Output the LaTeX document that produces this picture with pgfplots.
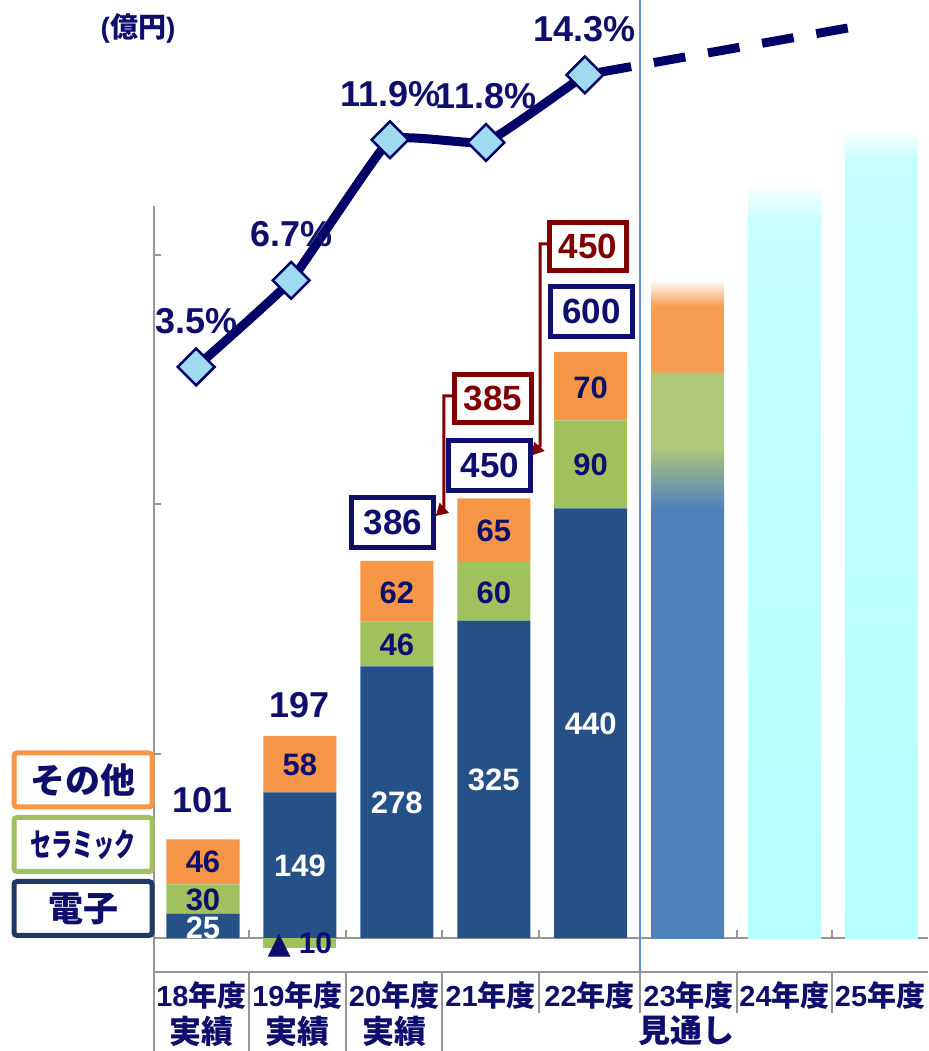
\documentclass[border=0pt]{standalone}
\usepackage{pgfplots}
\pgfplotsset{compat=1.18}
\usepackage{pgfplotstable}
\usepackage{fontspec}
\setmainfont{Liberation Sans}
\newfontfamily\cjk{Noto Sans CJK JP}
\newfontfamily\sym{DejaVu Sans}
\usetikzlibrary{arrows.meta}

\definecolor{navy}{RGB}{14,14,108}
\definecolor{lineblue}{RGB}{0,0,102}
\definecolor{barblue}{RGB}{38,80,136}
\definecolor{barorange}{RGB}{247,150,70}
\definecolor{bargreen}{RGB}{160,194,94}
\definecolor{darkred}{RGB}{128,0,0}
\definecolor{mk}{RGB}{160,218,240}
\definecolor{legblue}{RGB}{31,56,100}
\definecolor{axgray}{RGB}{150,150,150}
\definecolor{sepblue}{RGB}{95,145,210}
\definecolor{cyanA}{RGB}{182,255,255}
\definecolor{cyanB}{RGB}{200,255,255}
\definecolor{blueF}{RGB}{79,129,189}
\definecolor{greenF}{RGB}{174,200,122}
\definecolor{orangeF}{RGB}{247,157,82}

\pgfdeclareverticalshading{shA}{100bp}{color(0bp)=(blueF); color(25bp)=(blueF); color(57.6bp)=(blueF); color(62.3bp)=(greenF); color(67.7bp)=(greenF); color(68.2bp)=(orangeF); color(73bp)=(orangeF); color(75bp)=(white); color(100bp)=(white)}
\pgfdeclareverticalshading{shB}{100bp}{color(0bp)=(cyanA); color(25bp)=(cyanA); color(72.5bp)=(cyanB); color(75bp)=(white); color(100bp)=(white)}
\pgfdeclareverticalshading{shC}{100bp}{color(0bp)=(cyanA); color(25bp)=(cyanA); color(73.2bp)=(cyanB); color(75bp)=(white); color(100bp)=(white)}

\newcommand{\fIn}{\fontsize{31}{33}\selectfont\bfseries}
\newcommand{\fBig}{\fontsize{36}{38}\selectfont\bfseries}
\newcommand{\fBox}{\fontsize{35}{37}\selectfont\bfseries}

% stacked bars (billion yen)
\pgfplotstableread{
x elec cer oth
0 25 30 46
1 149 0 58
2 278 46 62
3 325 60 65
4 440 90 70
}\bars
% labels inside bars
\pgfplotstableread{
x y lab
0 10 25
1 74 149
2 138 278
3 161.5 325
4 219 440
}\whitelabs
\pgfplotstableread{
x y lab
0 39 30
0 78 46
1 177 58
2 300 46
2 353 62
3 353 60
3 417 65
4 484 90
4 563 70
}\navylabs
\pgfplotstableread{
x y lab
0 141 101
1 238 197
}\totlabs
\pgfplotstableread{
x y lab
1.96 425 386
2.96 484 450
4.01 641 600
}\navybox
\pgfplotstableread{
x y lab
2.99 552 385
3.97 708.5 450
}\redbox
% operating margin (%)
\pgfplotstableread{
x p lab
-0.07 3.5 3.5
0.91 6.7 6.7
1.93 11.9 11.9
2.92 11.8 11.8
3.94 14.3 14.3
}\margin

\pgfplotsset{base/.style={scale only axis, width=774pt, height=975pt,
  at={(154pt,76pt)}, anchor=south west, xmin=-0.5055, xmax=7.48,
  hide axis, clip=false}}

\begin{document}
\begin{tikzpicture}[x=1pt,y=1pt]
\useasboundingbox (0,0) rectangle (928,1051);

% axis furniture
\draw[axgray, line width=1.5pt] (154,845) -- (154,0);
\foreach \yy in {796,547,297} \draw[axgray, line width=1.5pt] (154,\yy) -- (161,\yy);
\draw[axgray, line width=1.5pt] (154,113) -- (928,113);
\foreach \xx in {249,346,442,539,737,832} \draw[axgray, line width=1.5pt] (\xx,113) -- (\xx,121);
\draw[axgray, line width=1.5pt] (154,79) -- (928,79);
\foreach \xx in {249,346,442} \draw[axgray, line width=1.5pt] (\xx,79) -- (\xx,0);
\foreach \xx in {539,640,737,832} \draw[axgray, line width=1.5pt] (\xx,79) -- (\xx,38);
\draw[sepblue, line width=1.8pt] (640,1051) -- (640,79);

% stacked bars
\begin{axis}[base, ymin=-37.88, ymax=960.4, ybar stacked, bar width=73pt]
\addplot[fill=barblue, draw=none] table[x=x, y=elec] \bars;
\addplot[fill=bargreen, draw=none] table[x=x, y=cer] \bars;
\addplot[fill=barorange, draw=none] table[x=x, y=oth] \bars;
\end{axis}

% other bars and labels
\begin{axis}[base, ymin=-37.88, ymax=960.4]
\addplot[ybar, bar width=73pt, bar shift=0pt, fill=bargreen, draw=none] coordinates {(1,-10)};
\addplot[ybar, bar width=73pt, bar shift=0pt, draw=none, shade, shading=shA] coordinates {(5,673.7)};
\addplot[ybar, bar width=73pt, bar shift=0pt, draw=none, shade, shading=shB] coordinates {(6,773)};
\addplot[ybar, bar width=73pt, bar shift=0pt, draw=none, shade, shading=shC] coordinates {(7,827)};

\addplot[only marks, mark=*, mark size=0pt, mark options={draw=none, fill=none},
  nodes near coords, point meta=explicit symbolic,
  every node near coord/.append style={anchor=center, font=\fIn, text=white}]
  table[x=x, y=y, meta=lab] \whitelabs;
\addplot[only marks, mark=*, mark size=0pt, mark options={draw=none, fill=none},
  nodes near coords, point meta=explicit symbolic,
  every node near coord/.append style={anchor=center, font=\fIn, text=navy}]
  table[x=x, y=y, meta=lab] \navylabs;
\addplot[only marks, mark=*, mark size=0pt, mark options={draw=none, fill=none},
  nodes near coords, point meta=explicit symbolic,
  every node near coord/.append style={anchor=center, font=\fBig, text=navy}]
  table[x=x, y=y, meta=lab] \totlabs;
\addplot[only marks, mark=*, mark size=0pt, mark options={draw=none, fill=none},
  nodes near coords={{\sym ▲}\hspace{8pt}\pgfplotspointmeta}, point meta=explicit symbolic,
  every node near coord/.append style={anchor=center, font=\fontsize{30}{32}\selectfont\bfseries, text=navy}]
  coordinates {(1,-7) [10]};
\addplot[only marks, mark=*, mark size=0pt, mark options={draw=none, fill=none},
  nodes near coords, point meta=explicit symbolic,
  every node near coord/.append style={anchor=center, font=\fBox, text=navy,
    draw=navy, line width=5pt, fill=white, minimum width=82pt, minimum height=50pt, inner sep=0pt}]
  table[x=x, y=y, meta=lab] \navybox;
\addplot[only marks, mark=*, mark size=0pt, mark options={draw=none, fill=none},
  nodes near coords, point meta=explicit symbolic,
  every node near coord/.append style={anchor=center, font=\fBox, text=darkred,
    draw=darkred, line width=5pt, fill=white, minimum width=77pt, minimum height=48pt, inner sep=0pt}]
  table[x=x, y=y, meta=lab] \redbox;

\draw[darkred, line width=3pt, -{Triangle[length=12pt,width=13pt]}]
  (axis cs:2.597,555) -- (axis cs:2.486,555) -- (axis cs:2.486,440) -- (axis cs:2.40,432);
\draw[darkred, line width=3pt, -{Triangle[length=12pt,width=13pt]}]
  (axis cs:3.57,710.6) -- (axis cs:3.477,710.6) -- (axis cs:3.477,504) -- (axis cs:3.39,494);
\end{axis}

% margin line
\begin{axis}[base, ymin=-18.99, ymax=17.07]
\addplot[lineblue, line width=9pt, dash pattern=on 32pt off 23pt, dash phase=40pt]
  coordinates {(3.94,14.3) (6.71,16.07)};
\addplot[lineblue, line width=9pt, smooth, tension=0.18,
  mark=square*, mark size=13pt,
  mark options={rotate=45, solid, fill=mk, draw=lineblue, line width=2.5pt},
  nodes near coords={\pgfplotspointmeta\%},
  point meta=explicit symbolic,
  every node near coord/.append style={anchor=center, yshift=46pt, font=\fBig, text=navy}]
  table[x=x, y=p, meta=lab] \margin;
\end{axis}

% unit, legend, category labels
\node[font=\fontsize{28}{30}\selectfont\bfseries, text=navy] at (138,1023) {({\cjk 億円})};
\node[draw=barorange, line width=5pt, rounded corners=3pt, fill=white, minimum width=138pt, minimum height=54pt, inner sep=0pt,
  font=\cjk\fontsize{35}{37}\selectfont\bfseries, text=navy] at (83,271) {その他};
\node[draw=bargreen, line width=5pt, rounded corners=3pt, fill=white, minimum width=138pt, minimum height=54pt, inner sep=0pt,
  font=\cjk\fontsize{32}{34}\selectfont\bfseries, text=navy] at (83,206.5) {\scalebox{0.66}[1]{セラミック}};
\node[draw=legblue, line width=5pt, rounded corners=3pt, fill=white, minimum width=138pt, minimum height=54pt, inner sep=0pt,
  font=\cjk\fontsize{35}{37}\selectfont\bfseries, text=navy] at (83,142.5) {電子};

\foreach \xx/\yr in {201.5/18,297.5/19,394/20,490.5/21,589.5/22,688.5/23,784.5/24,880/25}
  \node[font=\fontsize{29}{31}\selectfont\bfseries, text=navy] at (\xx,56) {\yr{\cjk 年度}};
\foreach \xx in {201.5,297.5,394}
  \node[font=\cjk\fontsize{32}{34}\selectfont\bfseries, text=navy] at (\xx,20) {実績};
\node[font=\cjk\fontsize{32}{34}\selectfont\bfseries, text=navy] at (686,20) {見通し};
\end{tikzpicture}
\end{document}
